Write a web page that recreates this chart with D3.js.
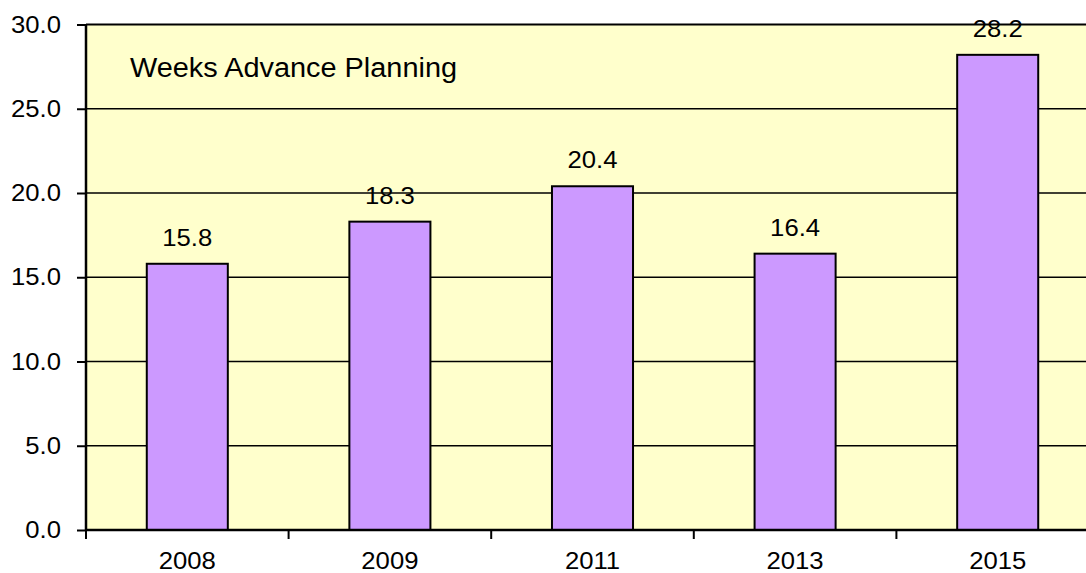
<!DOCTYPE html>
<html>
<head>
<meta charset="utf-8">
<script src="https://cdn.jsdelivr.net/npm/d3@7"></script>
<style>
  html, body { margin: 0; padding: 0; background: #fff; overflow: hidden; }
  svg { display: block; font-family: "Liberation Sans", Arial, sans-serif; }
</style>
</head>
<body>
<svg id="chart" width="1086" height="573"></svg>
<script>
// chart data
const years = ['2008', '2009', '2011', '2013', '2015'];
const weeks = [15.8, 18.3, 20.4, 16.4, 28.2];
const yTicks = [0, 5, 10, 15, 20, 25, 30];
const chartTitle = 'Weeks Advance Planning';

// dimensions (plot runs a bit past the right edge, as in the original)
const margin = { top: 24.5, left: 86, bottom: 43 };
const plotWidth = 1013;
const plotHeight = 573 - margin.top - margin.bottom;

// the original text is slightly wider than plain Arial
const sx = 1.07;
function stretch(sel) {
  sel.attr('transform', function () {
    const tx = +this.getAttribute('x') || 0;
    return 'translate(' + tx + ',0) scale(' + sx + ',1) translate(' + (-tx) + ',0)';
  });
}

const svg = d3.select('#chart');
const g = svg.append('g')
  .attr('transform', 'translate(' + margin.left + ',' + margin.top + ')');

const x = d3.scaleBand().domain(years).range([0, plotWidth]).paddingInner(0.6).paddingOuter(0.3);
const y = d3.scaleLinear().domain([0, 30]).range([plotHeight, 0]);

// plot background
g.append('rect')
  .attr('x', 0).attr('y', 0)
  .attr('width', plotWidth).attr('height', plotHeight)
  .attr('fill', '#ffffcc');

// gridlines
g.append('g')
  .selectAll('line')
  .data(yTicks.filter(d => d > 0))
  .enter()
  .append('line')
  .attr('x1', 0).attr('x2', plotWidth)
  .attr('y1', d => y(d)).attr('y2', d => y(d))
  .attr('stroke', '#000')
  .attr('stroke-width', d => d === 30 ? 2 : 1.5);

// title inside plot
g.append('text')
  .attr('x', 130 - margin.left)
  .attr('y', 77 - margin.top)
  .attr('font-size', 27)
  .attr('fill', '#000')
  .text(chartTitle)
  .call(stretch);

// bars
g.append('g')
  .selectAll('rect')
  .data(weeks)
  .enter()
  .append('rect')
  .attr('x', (d, i) => x(years[i]))
  .attr('y', d => y(d))
  .attr('width', x.bandwidth())
  .attr('height', d => y(0) - y(d))
  .attr('fill', '#cc99ff')
  .attr('stroke', '#000')
  .attr('stroke-width', 2);

// value labels
g.append('g')
  .selectAll('text')
  .data(weeks)
  .enter()
  .append('text')
  .attr('x', (d, i) => x(years[i]) + x.bandwidth() / 2)
  .attr('y', d => y(d) - 18)
  .attr('text-anchor', 'middle')
  .attr('font-size', 24)
  .attr('fill', '#000')
  .text(d => d.toFixed(1))
  .call(stretch);

// Y axis
const yAxis = g.append('g')
  .call(d3.axisLeft(y).tickValues(yTicks).tickFormat(d3.format('.1f')).tickSize(9).tickPadding(16));
yAxis.select('.domain').attr('stroke-width', 2.5).attr('d', 'M0,' + plotHeight + 'V0');
yAxis.selectAll('.tick line').attr('stroke-width', 2);
yAxis.selectAll('.tick text').attr('font-size', 24).attr('fill', '#000').call(stretch);

// X axis: ticks sit on category boundaries
const xAxis = g.append('g').attr('transform', 'translate(0,' + plotHeight + ')');
xAxis.append('line')
  .attr('x1', 0).attr('x2', plotWidth)
  .attr('stroke', '#000').attr('stroke-width', 2.5);
const step = plotWidth / years.length;
xAxis.selectAll('.xtick')
  .data(d3.range(years.length + 1))
  .enter()
  .append('line')
  .attr('x1', i => i * step).attr('x2', i => i * step)
  .attr('y1', 0).attr('y2', 9)
  .attr('stroke', '#000').attr('stroke-width', 2);
xAxis.selectAll('text')
  .data(years)
  .enter()
  .append('text')
  .attr('x', d => x(d) + x.bandwidth() / 2)
  .attr('y', 39)
  .attr('text-anchor', 'middle')
  .attr('font-size', 24)
  .attr('fill', '#000')
  .text(d => d)
  .call(stretch);
</script>
</body>
</html>
